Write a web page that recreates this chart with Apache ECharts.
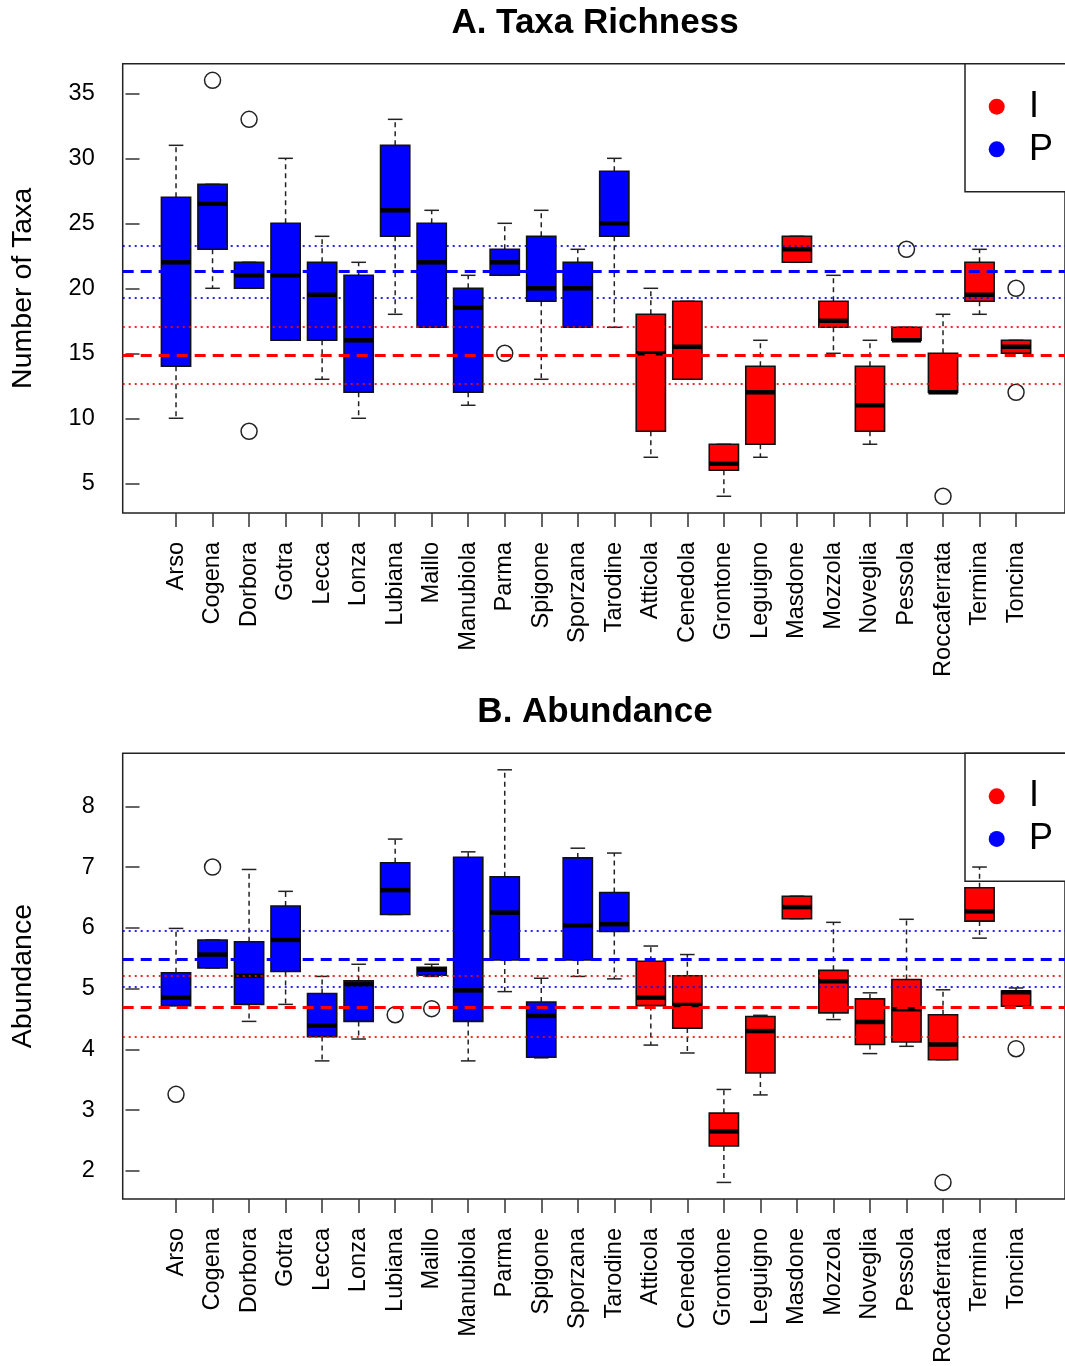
<!DOCTYPE html>
<html>
<head>
<meta charset="utf-8">
<script src="https://cdn.jsdelivr.net/npm/echarts@6/dist/echarts.min.js"></script>
<style>
html,body{margin:0;padding:0;background:#fff;}
#chart{width:1065px;height:1366px;}
</style>
</head>
<body>
<div id="chart"></div>
<script>
// ---------- DATA ----------
const sites = ['Arso','Cogena','Dorbora','Gotra','Lecca','Lonza','Lubiana','Maillo','Manubiola','Parma','Spigone','Sporzana','Tarodine','Atticola','Cenedola','Grontone','Leguigno','Masdone','Mozzola','Noveglia','Pessola','Roccaferrata','Termina','Toncina'];
const siteGroup = ['P','P','P','P','P','P','P','P','P','P','P','P','P','I','I','I','I','I','I','I','I','I','I','I'];

// [lower whisker, Q1, median, Q3, upper whisker]
const richnessStats = [
  [10,14,22,27,31],[20,23,26.5,28,28],[20,20,21,22,22],[16,16,21,25,30],
  [13,16,19.5,22,24],[10,12,16,21,22],[18,24,26,31,33],[17,17,22,25,26],
  [11,12,18.5,20,21],[21,21,22,23,25],[13,19,20,24,26],[17,17,20,22,23],
  [17,24,25,29,30],[7,9,15,18,20],[13,13,15.5,19,19],[4,6,6.5,8,8],
  [7,8,12,14,16],[22,22,23,24,24],[15,17,17.5,19,21],[8,9,11,14,16],
  [16,16,16,17,17],[12,12,12,15,18],[18,19,19.5,22,23],[15,15,15.5,16,16]
];
// [site number (1-based), value]
const richnessOutliers = [[2,36],[3,33],[3,9],[10,15],[21,23],[22,4],[24,20],[24,12]];
const richnessMeanP = 21.28, richnessBandP = [19.28, 23.28];
const richnessMeanI = 14.82, richnessBandI = [12.64, 17.05];

const abundanceStats = [
  [4.72,4.72,4.85,5.26,5.99],[5.34,5.34,5.56,5.80,5.80],[4.46,4.74,5.21,5.77,6.96],[4.74,5.28,5.80,6.36,6.60],
  [3.81,4.21,4.39,4.92,5.20],[4.17,4.46,5.07,5.13,5.40],[6.22,6.22,6.62,7.07,7.46],[5.20,5.22,5.31,5.35,5.40],
  [3.81,4.46,4.97,7.16,7.25],[4.95,5.47,6.25,6.84,8.60],[3.86,3.87,4.55,4.78,5.17],[5.20,5.47,6.04,7.15,7.31],
  [5.16,5.94,6.06,6.58,7.23],[4.07,4.72,4.85,5.45,5.70],[3.94,4.35,4.73,5.21,5.56],[1.81,2.41,2.65,2.95,3.34],
  [3.25,3.61,4.30,4.54,4.56],[6.15,6.15,6.34,6.52,6.52],[4.49,4.60,5.12,5.30,6.09],[3.93,4.08,4.45,4.83,4.93],
  [4.05,4.12,4.66,5.15,6.14],[3.83,3.83,4.08,4.57,4.98],[5.83,6.11,6.27,6.66,7.00],[4.71,4.71,4.94,4.96,5.01]
];
const abundanceOutliers = [[1,3.26],[2,7.0],[7,4.57],[8,4.67],[22,1.81],[24,4.01]];
const abundanceMeanP = 5.49, abundanceBandP = [5.03, 5.95];
const abundanceMeanI = 4.70, abundanceBandI = [4.20, 5.21];

const richnessTicks = [5,10,15,20,25,30,35];
const abundanceTicks = [2,3,4,5,6,7,8];
const siteTicks = sites.map((s,i)=>i+1);
const legendLabels = ['I','P'];

// ---------- STYLE ----------
const FONT = '"Liberation Sans", Arial, Helvetica, sans-serif';
const BLUE = '#0000ff', RED = '#ff0000';

// R-style axis range: data range extended 4% each end
function rRange(stats, outs){
  let lo = Infinity, hi = -Infinity;
  stats.forEach(s=>{ lo=Math.min(lo,s[0]); hi=Math.max(hi,s[4]); });
  outs.forEach(o=>{ lo=Math.min(lo,o[1]); hi=Math.max(hi,o[1]); });
  const d = (hi-lo)*0.04;
  return [lo-d, hi+d];
}
// full R range would be [-0.46, 25.46]; the picture is cropped at the right edge
const xRange = [0.5 - 24*0.04, 25.34];
const rRich = rRange(richnessStats, richnessOutliers);
const rAbun = rRange(abundanceStats, abundanceOutliers);

function renderBox(params, api){
  const x = api.value(0);
  const lo = api.value(1), q1 = api.value(2), med = api.value(3), q3 = api.value(4), hi = api.value(5);
  const g = api.value(6);
  const w = api.size([0.8, 0])[0];
  const c = api.coord([x, med]);
  const cx = c[0];
  const yLo = api.coord([x, lo])[1], yQ1 = api.coord([x, q1])[1];
  const yQ3 = api.coord([x, q3])[1], yHi = api.coord([x, hi])[1];
  const dash = {stroke:'#222', lineWidth:1.5, lineDash:[5,4], fill:null};
  const solid = {stroke:'#222', lineWidth:1.5, fill:null};
  const children = [];
  children.push({type:'line', shape:{x1:cx,y1:yQ3,x2:cx,y2:yHi}, style:dash});
  children.push({type:'line', shape:{x1:cx,y1:yQ1,x2:cx,y2:yLo}, style:dash});
  children.push({type:'line', shape:{x1:cx-w/4,y1:yHi,x2:cx+w/4,y2:yHi}, style:solid});
  children.push({type:'line', shape:{x1:cx-w/4,y1:yLo,x2:cx+w/4,y2:yLo}, style:solid});
  children.push({type:'rect', shape:{x:cx-w/2, y:yQ3, width:w, height:yQ1-yQ3},
    style:{fill: g===0 ? BLUE : RED, stroke:'#111', lineWidth:1.6}});
  children.push({type:'line', shape:{x1:cx-w/2,y1:c[1],x2:cx+w/2,y2:c[1]}, style:{stroke:'#000', lineWidth:4.5}});
  return {type:'group', children};
}

function boxData(stats){
  return stats.map((s,i)=>[i+1, s[0], s[1], s[2], s[3], s[4], siteGroup[i]==='P'?0:1]);
}

function refLines(meanP, bandP, meanI, bandI){
  const dashed = c => ({color:c, width:2.8, type:[11,7]});
  const dotted = c => ({color:c, width:2, type:[2,4], opacity:0.85});
  return {
    symbol:'none', silent:true, animation:false, label:{show:false},
    data:[
      {yAxis: bandP[0], lineStyle: dotted(BLUE)},
      {yAxis: bandP[1], lineStyle: dotted(BLUE)},
      {yAxis: bandI[0], lineStyle: dotted(RED)},
      {yAxis: bandI[1], lineStyle: dotted(RED)},
      {yAxis: meanP, lineStyle: dashed(BLUE)},
      {yAxis: meanI, lineStyle: dashed(RED)}
    ]
  };
}

const grids = [
  {left:122.7, top:63.7, right:0, height:449.2},
  {left:122.7, top:753.3, right:0, height:448.4}
];

function makeXAxis(gi){
  return {
    type:'value', gridIndex:gi, min:xRange[0], max:xRange[1],
    axisLine:{show:false}, splitLine:{show:false},
    axisTick:{show:true, customValues:siteTicks, length:14, lineStyle:{color:'#333', width:1.5}},
    axisLabel:{show:true, customValues:siteTicks, rotate:90, margin:29,
      fontFamily:FONT, fontSize:23.6, color:'#000',
      formatter: v => sites[Math.round(v)-1] || ''}
  };
}
function makeYAxis(gi, range, ticks, name){
  return {
    type:'value', gridIndex:gi, min:range[0], max:range[1],
    name:name, nameLocation:'middle', nameRotate:90, nameGap:85,
    nameTextStyle:{fontFamily:FONT, fontSize:28.5, color:'#000'},
    axisLine:{show:false}, splitLine:{show:false},
    axisTick:{show:true, customValues:ticks, length:14, lineStyle:{color:'#333', width:1.5}},
    axisLabel:{show:true, customValues:ticks, margin:28, fontFamily:FONT, fontSize:23.5, color:'#000'}
  };
}

function legendGraphic(top){
  return {
    type:'group', z:100, children:[
      {type:'rect', shape:{x:965, y:top, width:140, height:128}, style:{fill:'#fff', stroke:'#222', lineWidth:1.5}},
      {type:'circle', shape:{cx:996.7, cy:top+43, r:8}, style:{fill:RED}},
      {type:'circle', shape:{cx:996.7, cy:top+85.6, r:8}, style:{fill:BLUE}},
      {type:'text', style:{x:1029, y:top+43, text:legendLabels[0], font:'36px '+FONT, fill:'#000', verticalAlign:'middle'}},
      {type:'text', style:{x:1029, y:top+86, text:legendLabels[1], font:'36px '+FONT, fill:'#000', verticalAlign:'middle'}}
    ]
  };
}

function outlierSeries(idx, data, lines){
  return {type:'scatter', xAxisIndex:idx, yAxisIndex:idx, data:data, symbol:'circle', symbolSize:16,
    itemStyle:{color:'rgba(255,255,255,0)', borderColor:'#222', borderWidth:1.5, opacity:1}, z:4,
    markLine: lines};
}

const chart = echarts.init(document.getElementById('chart'), null, {renderer:'canvas'});
chart.setOption({
  animation:false,
  backgroundColor:'#fff',
  grid: grids.map(g=>Object.assign({show:true, borderColor:'#222', borderWidth:1.5, backgroundColor:'transparent'}, g)),
  xAxis:[makeXAxis(0), makeXAxis(1)],
  yAxis:[makeYAxis(0, rRich, richnessTicks, 'Number of Taxa'), makeYAxis(1, rAbun, abundanceTicks, 'Abundance')],
  series:[
    {type:'custom', xAxisIndex:0, yAxisIndex:0, renderItem:renderBox, data:boxData(richnessStats),
     encode:{x:0, y:[1,2,3,4,5]}, z:2},
    outlierSeries(0, richnessOutliers, refLines(richnessMeanP, richnessBandP, richnessMeanI, richnessBandI)),
    {type:'custom', xAxisIndex:1, yAxisIndex:1, renderItem:renderBox, data:boxData(abundanceStats),
     encode:{x:0, y:[1,2,3,4,5]}, z:2},
    outlierSeries(1, abundanceOutliers, refLines(abundanceMeanP, abundanceBandP, abundanceMeanI, abundanceBandI))
  ],
  graphic:[
    {type:'text', z:100, style:{x:595, y:23, text:'A. Taxa Richness', font:'bold 35px '+FONT, fill:'#000', align:'center', verticalAlign:'middle'}},
    {type:'text', z:100, style:{x:595, y:712.6, text:'B. Abundance', font:'bold 35px '+FONT, fill:'#000', align:'center', verticalAlign:'middle'}},
    legendGraphic(63.7),
    legendGraphic(753.3)
  ]
});
</script>
</body>
</html>
